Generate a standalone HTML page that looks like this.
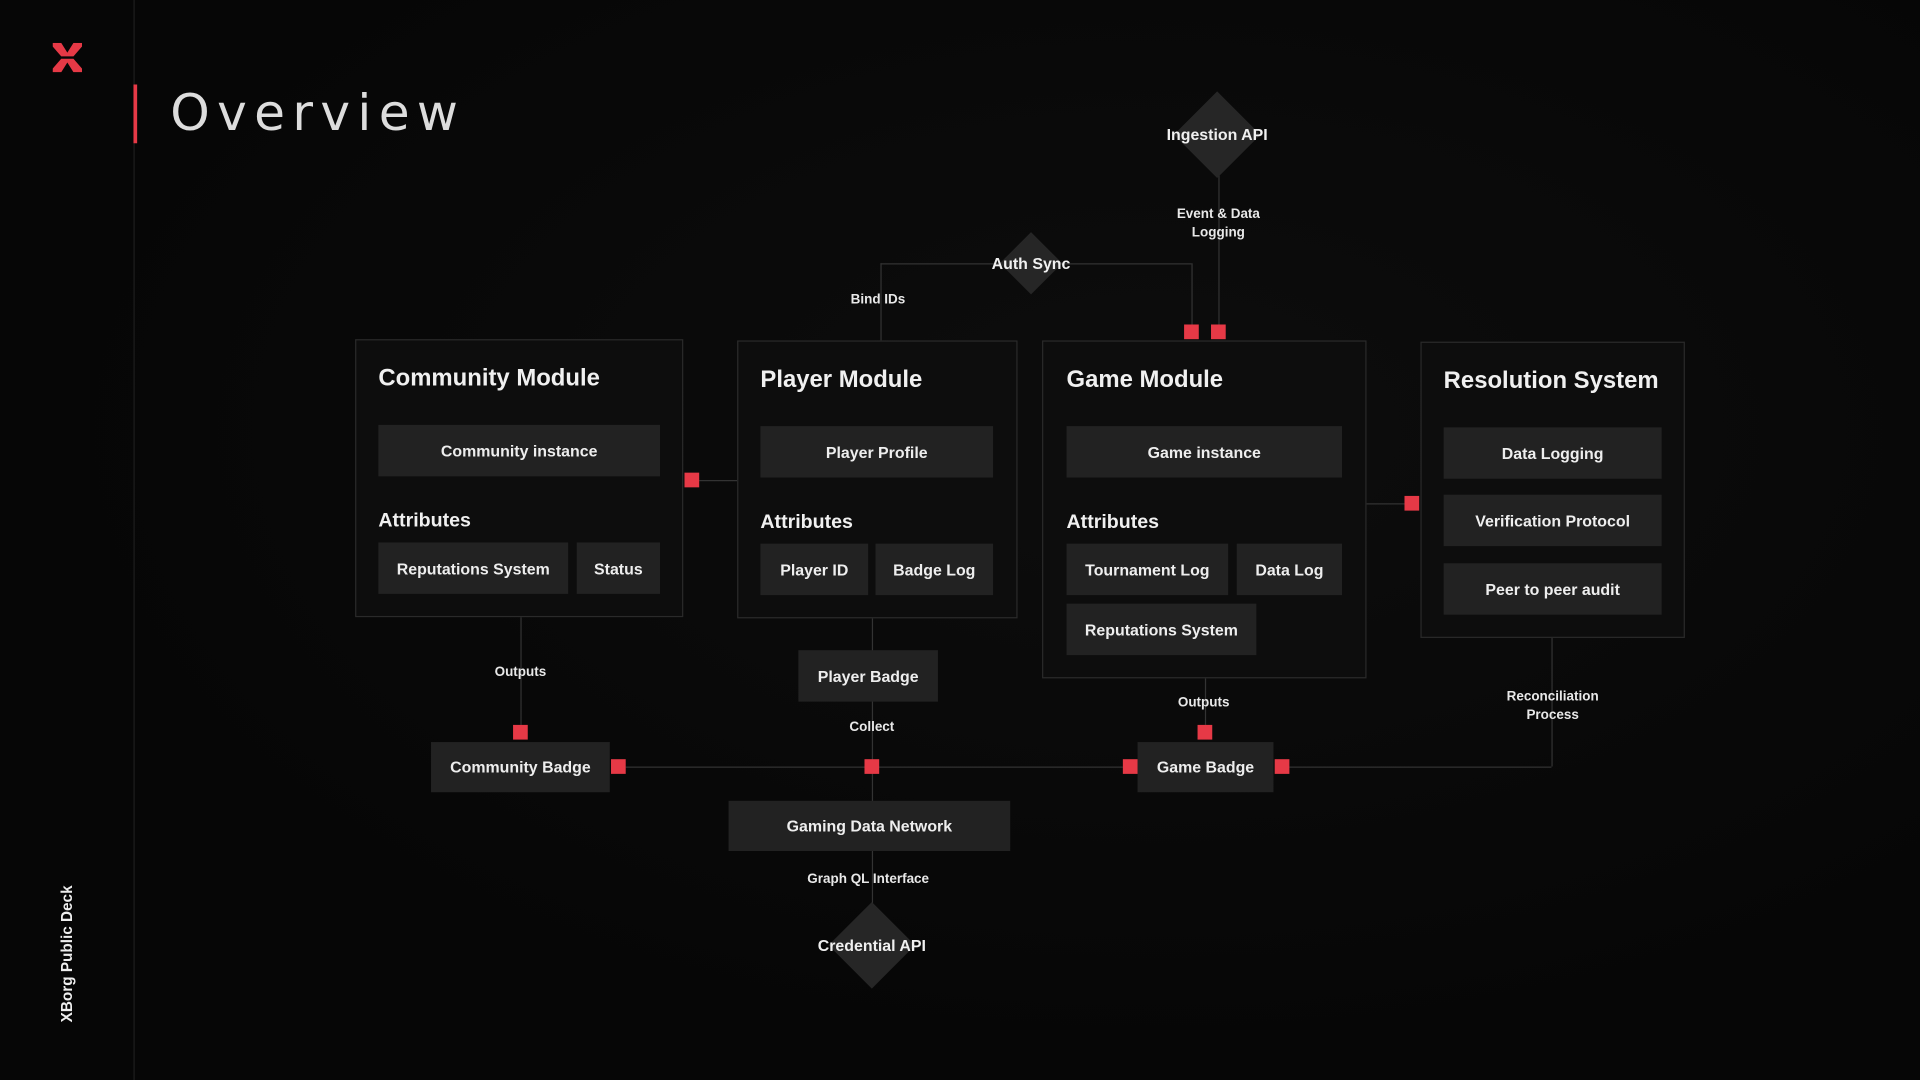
<!DOCTYPE html>
<html><head><meta charset="utf-8"><style>
html,body{margin:0;padding:0;background:#070707;}
body{width:1920px;height:1080px;overflow:hidden;position:relative;font-family:"Liberation Sans",sans-serif;}
#s{position:absolute;left:0;top:0;width:1568px;height:882px;transform:scale(1.22449);transform-origin:0 0;background:radial-gradient(ellipse at 60% 40%,#0d0d0d,#060606 70%);}
.a{position:absolute;}
.box{position:absolute;border:1px solid #2a2a2a;background:rgba(14,14,14,.85);box-sizing:border-box;}
.n{position:absolute;background:#222;color:#eee;font-size:13px;font-weight:bold;display:flex;align-items:center;justify-content:center;box-sizing:border-box;}
.t{position:absolute;color:#f0f0f0;font-size:19.5px;font-weight:bold;}
.at{position:absolute;color:#f0f0f0;font-size:16px;font-weight:bold;}
.h{position:absolute;height:1px;background:#333;}
.v{position:absolute;width:1px;background:#333;}
.r{position:absolute;width:12px;height:12px;background:#e63946;}
.l{position:absolute;color:#e8e8e8;font-size:11px;font-weight:bold;text-align:center;transform:translateX(-50%);white-space:nowrap;line-height:15px;}
.d{position:absolute;width:50px;height:50px;background:#262626;transform:translate(-50%,-50%) rotate(45deg);}
.dl{position:absolute;color:#f0f0f0;font-size:13px;font-weight:bold;transform:translate(-50%,-50%);white-space:nowrap;}
</style></head><body><div id="s">
<div class="v" style="left:109px;top:0;height:882px;background:#1e1e1e"></div>
<svg class="a" style="left:43px;top:35px" width="24" height="24" viewBox="0 0 24 24"><path d="M0 0 L7 0 L12 8 L17 0 L24 0 L24 3 L17 11 L7 11 L0 3Z" fill="#e63946"/><path d="M0 24 L7 24 L12 16 L17 24 L24 24 L24 21 L17 13 L7 13 L0 21Z" fill="#e63946"/></svg>
<div class="a" style="left:109px;top:69px;width:3px;height:48px;background:#e63946"></div>
<div class="a" style="left:139px;top:68px;color:#ddd;font-size:41px;letter-spacing:6px;font-family:'DejaVu Sans','Liberation Sans',sans-serif;">Overview</div>
<div class="a" style="left:55px;top:779px;color:#eee;font-size:12.5px;font-weight:bold;transform:translate(-50%,-50%) rotate(-90deg);white-space:nowrap">XBorg Public Deck</div>

<div class="v" style="left:995px;top:140px;height:126px"></div>
<div class="h" style="left:719px;top:215px;width:254px"></div>
<div class="v" style="left:719px;top:215px;height:63px"></div>
<div class="v" style="left:973px;top:215px;height:51px"></div>
<div class="h" style="left:571px;top:392px;width:31px"></div>
<div class="h" style="left:1116px;top:411px;width:31px"></div>
<div class="v" style="left:425px;top:504px;height:88px"></div>
<div class="h" style="left:511px;top:626px;width:406px"></div>
<div class="h" style="left:1053px;top:626px;width:214px"></div>
<div class="v" style="left:1267px;top:521px;height:105px"></div>
<div class="v" style="left:712px;top:505px;height:235px"></div>
<div class="v" style="left:984px;top:554px;height:38px"></div>

<div class="d" style="left:994px;top:110px"></div><div class="dl" style="left:994px;top:110px">Ingestion API</div>
<div class="d" style="left:842px;top:215px;width:36px;height:36px"></div><div class="dl" style="left:842px;top:215px">Auth Sync</div>
<div class="d" style="left:712px;top:772px"></div><div class="dl" style="left:712px;top:772px">Credential API</div>

<div class="l" style="left:995px;top:168px">Event &amp; Data<br>Logging</div>
<div class="l" style="left:717px;top:238px">Bind IDs</div>
<div class="l" style="left:425px;top:542px">Outputs</div>
<div class="l" style="left:983px;top:567px">Outputs</div>
<div class="l" style="left:712px;top:587px">Collect</div>
<div class="l" style="left:709px;top:711px">Graph QL Interface</div>
<div class="l" style="left:1268px;top:562px">Reconciliation<br>Process</div>

<div class="box" style="left:290px;top:277px;width:268px;height:227px"></div>
<div class="t" style="left:309px;top:298px">Community Module</div>
<div class="n" style="left:309px;top:347px;width:230px;height:42px">Community instance</div>
<div class="at" style="left:309px;top:417px">Attributes</div>
<div class="n" style="left:309px;top:443px;width:155px;height:42px">Reputations System</div>
<div class="n" style="left:471px;top:443px;width:68px;height:42px">Status</div>

<div class="box" style="left:602px;top:278px;width:229px;height:227px"></div>
<div class="t" style="left:621px;top:299px">Player Module</div>
<div class="n" style="left:621px;top:348px;width:190px;height:42px">Player Profile</div>
<div class="at" style="left:621px;top:418px">Attributes</div>
<div class="n" style="left:621px;top:444px;width:88px;height:42px">Player ID</div>
<div class="n" style="left:715px;top:444px;width:96px;height:42px">Badge Log</div>

<div class="box" style="left:851px;top:278px;width:265px;height:276px"></div>
<div class="t" style="left:871px;top:299px">Game Module</div>
<div class="n" style="left:871px;top:348px;width:225px;height:42px">Game instance</div>
<div class="at" style="left:871px;top:418px">Attributes</div>
<div class="n" style="left:871px;top:444px;width:132px;height:42px">Tournament Log</div>
<div class="n" style="left:1010px;top:444px;width:86px;height:42px">Data Log</div>
<div class="n" style="left:871px;top:493px;width:155px;height:42px">Reputations System</div>

<div class="box" style="left:1160px;top:279px;width:216px;height:242px"></div>
<div class="t" style="left:1179px;top:300px">Resolution System</div>
<div class="n" style="left:1179px;top:349px;width:178px;height:42px">Data Logging</div>
<div class="n" style="left:1179px;top:404px;width:178px;height:42px">Verification Protocol</div>
<div class="n" style="left:1179px;top:460px;width:178px;height:42px">Peer to peer audit</div>

<div class="n" style="left:352px;top:606px;width:146px;height:41px">Community Badge</div>
<div class="n" style="left:652px;top:531px;width:114px;height:42px">Player Badge</div>
<div class="n" style="left:929px;top:606px;width:111px;height:41px">Game Badge</div>
<div class="n" style="left:595px;top:654px;width:230px;height:41px">Gaming Data Network</div>

<div class="r" style="left:967px;top:265px"></div>
<div class="r" style="left:989px;top:265px"></div>
<div class="r" style="left:559px;top:386px"></div>
<div class="r" style="left:1147px;top:405px"></div>
<div class="r" style="left:419px;top:592px"></div>
<div class="r" style="left:499px;top:620px"></div>
<div class="r" style="left:706px;top:620px"></div>
<div class="r" style="left:917px;top:620px"></div>
<div class="r" style="left:1041px;top:620px"></div>
<div class="r" style="left:978px;top:592px"></div>
</div></body></html>
